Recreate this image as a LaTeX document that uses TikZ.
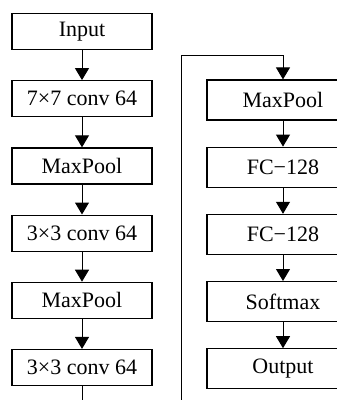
\documentclass[tikz,border=0pt]{standalone}
\usepackage{fontspec}
\setmainfont{Liberation Serif}
\usetikzlibrary{positioning, arrows.meta}

\tikzset{
    block/.style={draw, line width=1.2pt, minimum width=140pt, minimum height=36pt,
                  inner sep=0pt, font=\fontsize{22}{26}\selectfont},
    wideblock/.style={block, minimum width=152pt, minimum height=40pt},
}

\begin{document}
\begin{tikzpicture}[node distance=30pt, auto, >={Triangle[width=14pt,length=12pt]}]
    \useasboundingbox (0pt,0pt) rectangle (337pt,-400pt);
    \clip (0pt,0pt) rectangle (337pt,-400pt);

    \node[block] (input) at (82pt,-31.5pt) {Input};
    \node[block] (conv1) [below=of input] {7×7 conv 64};
    \node[block] (pool1) [below=of conv1] {MaxPool};
    \node[block] (conv2) [below=of pool1] {3×3 conv 64};
    \node[block] (pool2) [below=of conv2] {MaxPool};
    \node[block] (conv3) [below=of pool2] {3×3 conv 64};

    \begin{scope}[node distance=26pt]
    \node[wideblock] (pool3) at (283pt,-100pt) {MaxPool};
    \node[wideblock] (fc1) [below=of pool3] {FC−128};
    \node[wideblock] (fc2) [below=of fc1] {FC−128};
    \node[wideblock] (soft) [below=of fc2] {Softmax};
    \node[wideblock] (output) [below=of soft] {Output};
    \end{scope}

    \coordinate (low) at (181pt,-420pt);
    \coordinate (high) at (181pt,-55pt);

    \path[->, line width=1pt] (input) edge (conv1)
              (conv1) edge (pool1)
              (pool1) edge (conv2)
              (conv2) edge (pool2)
              (pool2) edge (conv3)
              (pool3) edge (fc1)
              (fc1) edge (fc2)
              (fc2) edge (soft)
              (soft) edge (output);
    \draw[->, line width=1pt] (conv3) |- (low) -- (high) -| (pool3);
\end{tikzpicture}
\end{document}
